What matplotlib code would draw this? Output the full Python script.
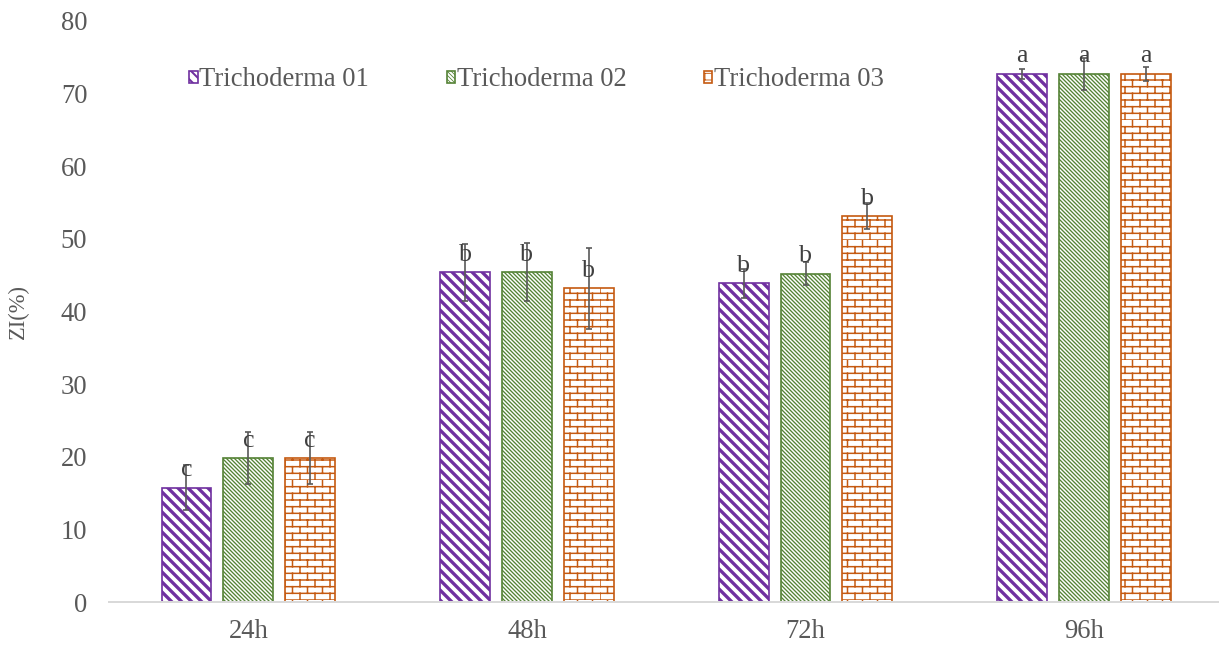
import warnings
import numpy as np
import matplotlib
matplotlib.use("Agg")
import matplotlib.pyplot as plt
from matplotlib import hatch as mhatch
from matplotlib.path import Path

warnings.filterwarnings("ignore")

# ZI(%) by incubation time for the three Trichoderma isolates
times = ["24h", "48h", "72h", "96h"]
strains = ["Trichoderma 01", "Trichoderma 02", "Trichoderma 03"]
zi_t01 = [15.7, 45.4, 43.9, 72.7]
zi_t02 = [19.8, 45.4, 45.2, 72.7]
zi_t03 = [19.8, 43.2, 53.1, 72.7]
err_t01 = [3.1, 3.9, 2.0, 0.7]
err_t02 = [3.6, 4.0, 1.6, 2.2]
err_t03 = [3.6, 5.6, 1.8, 1.0]
letters_t01 = ["c", "b", "b", "a"]
letters_t02 = ["c", "b", "b", "a"]
letters_t03 = ["c", "b", "b", "a"]


class BrickHatch(mhatch.HatchPatternBase):
    """Brick-wall hatch, selected with the 'B' character."""
    rows = 18
    cols = 8

    def __init__(self, hatch, density):
        self.on = "B" in hatch
        self.num_vertices = self.rows * (1 + self.cols) * 2 if self.on else 0

    def set_vertices_and_codes(self, vertices, codes):
        h = 1.0 / self.rows
        k = 0
        for i in range(self.rows):
            y = i * h
            vertices[k] = (0, y)
            vertices[k + 1] = (1, y)
            codes[k] = Path.MOVETO
            codes[k + 1] = Path.LINETO
            k += 2
            for j in range(self.cols):
                x = (j + 0.5 * (i % 2)) / self.cols
                vertices[k] = (x, y)
                vertices[k + 1] = (x, y + h)
                codes[k] = Path.MOVETO
                codes[k + 1] = Path.LINETO
                k += 2


mhatch._hatch_types.append(BrickHatch)

plt.rcParams["font.family"] = ["Liberation Serif", "DejaVu Serif"]
grey = "#595959"
dark = "#404040"

colors = ["#7030A0", "#548235", "#C55A11"]
hatches = ["\\" * 4, "\\" * 10, "B"]
hatch_lw = [2.0, 0.8, 0.9]
series = [zi_t01, zi_t02, zi_t03]
errors = [err_t01, err_t02, err_t03]
letters = [letters_t01, letters_t02, letters_t03]

W, H = 1219, 646
fig = plt.figure(figsize=(W / 120, H / 120), dpi=120)
ax = fig.add_axes([109 / W, (H - 602) / H, (1223.5 - 109) / W, (602 - 21) / H])

x = np.arange(len(times))
offset = 0.222
width = 0.179

for i in range(3):
    pos = x + (i - 1) * offset
    bars = ax.bar(pos, series[i], width, facecolor="white", edgecolor=colors[i],
                  hatch=hatches[i], linewidth=1.0, label=strains[i], zorder=2)
    for b in bars:
        if hasattr(b, "set_hatch_linewidth"):
            b.set_hatch_linewidth(hatch_lw[i])
    ax.errorbar(pos, series[i], yerr=errors[i], fmt="none", ecolor=grey,
                elinewidth=1.0, capsize=2, capthick=1.0, zorder=3)
    for xp, yv, lt in zip(pos, series[i], letters[i]):
        ax.annotate(lt, (xp, yv), xytext=(0, 7), textcoords="offset points",
                    ha="center", va="baseline", fontsize=15.5, color=dark,
                    zorder=4)

ax.set_ylim(0, 80)
ax.set_yticks(range(0, 81, 10))
ax.set_xlim(-0.5, 3.5)
ax.set_xticks(x)
ax.set_xticklabels(times)
ax.tick_params(axis="both", length=0, labelsize=16, colors=grey)
ax.tick_params(axis="x", pad=10)
ax.tick_params(axis="y", pad=13)
for side in ["top", "right", "left"]:
    ax.spines[side].set_visible(False)
ax.spines["bottom"].set_color("#D9D9D9")
ax.spines["bottom"].set_linewidth(1.2)
ax.set_ylabel("ZI(%)", fontsize=13.5, color=grey)
ax.yaxis.set_label_coords(-0.072, 0.5)

leg = ax.legend(loc="center left", bbox_to_anchor=(176 / W, 1 - 80 / H),
                bbox_transform=fig.transFigure, ncol=3, frameon=False,
                fontsize=16, handlelength=0.32, handleheight=0.32,
                handletextpad=0.06, columnspacing=2.9, borderpad=0,
                labelcolor=grey)
for h, lw in zip(leg.legend_handles, hatch_lw):
    if hasattr(h, "set_hatch_linewidth"):
        h.set_hatch_linewidth(lw * 0.6)

fig.savefig("out.png", dpi=120)
